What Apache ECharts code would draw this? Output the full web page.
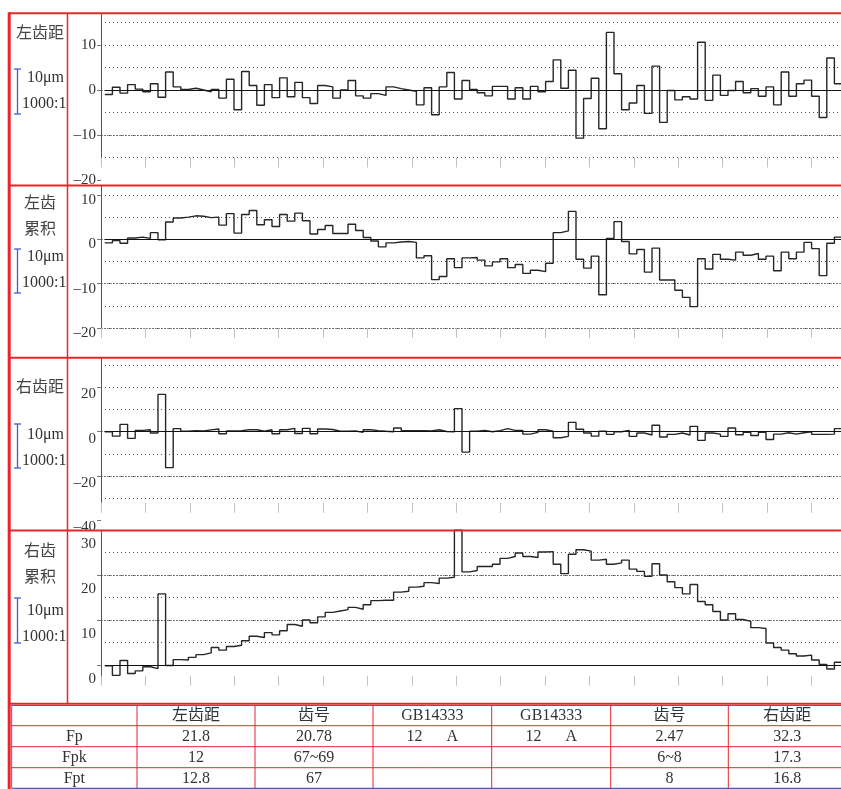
<!DOCTYPE html>
<html>
<head>
<meta charset="utf-8">
<title>齿距偏差</title>
<script src="https://cdn.jsdelivr.net/npm/echarts@6/dist/echarts.min.js"></script>
<style>
html, body { margin: 0; padding: 0; background: #fff; }
#main { width: 841px; height: 789px; }
</style>
</head>
<body>
<div id="main"></div>
<script>
// readings per tooth, tooth 1 .. 97 (the printout is cut off on the right)
var leftPitch = [
  -1.0, 0.6, -0.7, 1.2, 0.2, -0.4, 1.4, -1.6, 4.0, 0.7,
  0.1, 0.4, 0, -0.4, 0.1, -1.8, 2.4, -4.4, 4.1, 1.0,
  -3.4, 1.2, -1.7, 2.7, -1.5, 1.7, -1.7, -3.0, 1.0, 0.7,
  -1.8, 0, 2.1, -1.3, -1.8, -0.8, -1.2, 0.7, 0.3, 0,
  -0.3, -3.3, 0.5, -5.5, 0.7, 3.9, -2.0, 2.1, 0.1, -0.6,
  -1.3, 0.8, 0.8, -2.0, 0.5, -2.0, 0.8, -0.4, 1.9, 6.7,
  0.4, 4.4, -10.7, -1.9, 2.6, -8.6, 12.8, 3.6, -4.4, -2.9,
  1.0, -5.2, 5.3, -7.2, -0.1, -2.2, -1.5, -2.0, 10.6, -2.3,
  3.3, -1.2, -0.1, 1.9, -0.6, 0.3, -1.4, 0.7, -3.3, 4.0,
  -1.4, 1.4, 2.2, -1.4, -6.1, 7.1, 1.4
];
var leftCumulative = [
  -0.8, -0.3, -0.9, 0.3, 0.5, 0.2, 1.5, -0.1, 3.9, 4.8,
  5.0, 5.3, 5.2, 4.9, 5.0, 3.2, 5.8, 1.4, 5.6, 6.5,
  3.3, 4.4, 2.9, 5.6, 4.1, 5.9, 4.2, 1.2, 2.2, 3.1,
  1.3, 1.3, 3.4, 2.0, 0.4, -0.4, -1.7, -0.8, -0.6, -0.5,
  -0.7, -4.2, -3.7, -9.1, -8.4, -4.4, -6.4, -4.2, -4.1, -4.7,
  -6.0, -5.1, -4.4, -6.4, -5.7, -7.7, -7.0, -7.3, -5.4, 1.5,
  1.9, 6.3, -4.5, -6.5, -3.8, -12.5, 0.2, 4.0, -0.5, -3.3,
  -2.3, -7.4, -2.0, -9.2, -9.2, -11.5, -13.1, -15.2, -4.4, -6.7,
  -3.4, -4.5, -4.7, -2.9, -3.6, -3.2, -4.5, -3.8, -7.1, -2.9,
  -4.4, -2.9, -0.7, -2.1, -8.2, -0.9, 0.5
];
var rightPitch = [
  -0.1, -2.0, 3.3, -3.0, 0.6, 0.9, -0.6, 16.8, -16.2, 1.4,
  0.2, 0.5, 0.3, 0.8, 1.2, -0.9, 0.3, 0.5, 0.9, 0.9,
  0.2, 0.9, -0.9, 0.9, 1.5, -0.8, 1.5, -0.9, 1.2, 1.0,
  0.2, 0.2, 0.3, -0.3, 0.9, 0.5, 0.2, 0, 1.7, 0.5,
  0.5, 0.5, 0.3, 0.9, 0.1, 0, 10.4, -9.2, 0.2, 0.6,
  0, 0.5, 1.4, 0.6, 0.6, -1.1, -0.3, 0.9, 0.2, -2.7,
  -2.1, 4.2, 1.1, -0.6, -2.0, 0.2, -1.2, 0, 0.6, -2.1,
  -0.6, -1.5, 2.9, -2.4, -1.2, -0.6, -1.5, 2.4, -3.9, -0.6,
  -1.1, -2.1, 1.7, -1.4, -0.3, -1.7, -0.3, -3.5, -1.1, -0.5,
  -1.1, -0.5, 0, -1.2, -1.2, -1.1, 1.4
];
var rightCumulative = [
  -0.2, -2.3, 1.0, -1.9, -1.3, -0.4, -0.8, 15.8, -0.1, 1.2,
  1.1, 1.7, 2.3, 2.7, 3.9, 3.3, 4.1, 4.4, 5.4, 6.4,
  6.1, 7.2, 6.7, 7.6, 9.0, 8.6, 10.0, 9.4, 10.7, 11.7,
  12.0, 12.3, 12.8, 12.4, 13.4, 14.3, 14.4, 14.4, 16.2, 16.4,
  17.3, 17.5, 18.3, 18.1, 19.3, 19.5, 30.0, 20.7, 21.0, 21.9,
  21.9, 22.4, 23.7, 24.1, 24.9, 24.1, 23.9, 25.1, 25.2, 22.4,
  20.3, 24.6, 25.6, 25.3, 23.3, 23.5, 22.4, 22.7, 23.3, 21.3,
  20.8, 19.7, 22.5, 20.0, 18.5, 17.2, 15.8, 17.9, 14.1, 13.4,
  11.9, 10.0, 11.4, 10.1, 9.7, 8.3, 8.1, 4.9, 3.9, 3.3,
  2.5, 2.0, 2.2, 1.1, 0.1, -0.9, 0.6
];

var panelTitles = ['左齿距', '左齿\n累积', '右齿距', '右齿\n累积'];
var scaleTexts = ['10μm', '1000:1'];
var yTicks1 = [-20, -10, 0, 10];
var yTicks2 = [-20, -10, 0, 10];
var yTicks3 = [-40, -20, 0, 20];
var yTicks4 = [0, 10, 20, 30];

var tableHeader = ['', '左齿距', '齿号', 'GB14333', 'GB14333', '齿号', '右齿距'];
var tableRows = [
  ['Fp', '21.8', '20.78', '12\u2003\u2002A', '12\u2003\u2002A', '2.47', '32.3'],
  ['Fpk', '12', '67~69', '', '', '6~8', '17.3'],
  ['Fpt', '12.8', '67', '', '', '8', '16.8']
];

// ---- layout ----
var RED = '#e8262a', BLUE = '#4a5bc0', INK = '#333';
var FONT = '"Liberation Serif", "Noto Sans CJK SC", serif';
var plotLeft = 101, plotRight = 841;
var toothPx = 7.6, tickPx = 44.4;
var xMax = (plotRight - plotLeft) / toothPx;
var xTick = tickPx / toothPx;
var xTickValues = [];
for (var t = 0; t < xMax - 0.05; t += xTick) xTickValues.push(t);

var panels = [
  { data: leftPitch, ticks: yTicks1, top: 13.3, zeroY: 90, ppu: 4.5, min: -20, major: 10, axisEnd: -15, shift: 0,
    titleY: 34, barTop: 69, barBottom: 114, umY: 78, ratioY: 104 },
  { data: leftCumulative, ticks: yTicks2, top: 185.5, zeroY: 239.3, ppu: 4.43, min: -20, major: 10, axisEnd: -20, shift: 5,
    titleY: 217, barTop: 249, barBottom: 293, umY: 257, ratioY: 283 },
  { data: rightPitch, ticks: yTicks3, top: 357.7, zeroY: 431.7, ppu: 2.22, min: -40, major: 20, axisEnd: -32, shift: 7,
    titleY: 388, barTop: 424, barBottom: 468, umY: 435, ratioY: 461 },
  { data: rightCumulative, ticks: yTicks4, top: 530, zeroY: 665, ppu: 4.5, min: -10, major: 10, axisEnd: -2.4, shift: 14,
    titleY: 564.5, barTop: 598, barBottom: 643, umY: 611, ratioY: 637 }
];

function stepPoints(values) {
  var pts = values.map(function (v, k) { return [k + 0.5, v]; });
  pts.push([values.length + 0.5, values[values.length - 1]]);
  return pts;
}

// split line colours: hide lines below the end of the drawn axis
function lineColors(p, step, max, color) {
  var out = [];
  for (var v = p.min; v < max - 1e-6; v += step) {
    out.push(v >= p.axisEnd - 1e-6 ? color : 'rgba(0,0,0,0)');
  }
  return out;
}

function fmt(list) {
  return function (v) {
    var r = Math.round(v * 1000) / 1000;
    if (list.indexOf(r) < 0) return '';
    return r < 0 ? '\u2013' + (-r) : String(r);
  };
}

var grids = [], xAxes = [], yAxes = [], series = [];
panels.forEach(function (p, i) {
  var max = Math.round((p.zeroY - p.top) / p.ppu * 1e6) / 1e6;
  grids.push({
    left: plotLeft, width: plotRight - plotLeft, top: p.top,
    height: (max - p.min) * p.ppu, outerBoundsMode: 'none'
  });
  xAxes.push({
    type: 'value', gridIndex: i, min: 0, max: xMax, interval: xTick,
    offset: -(p.axisEnd - p.min) * p.ppu,
    axisLine: { show: false, onZero: false },
    axisTick: { show: true, length: 10, customValues: xTickValues, lineStyle: { color: '#c2c2c2', width: 1 } },
    axisLabel: { show: false },
    splitLine: { show: false }
  });
  var label = {
    customValues: p.ticks, formatter: fmt(p.ticks), margin: 5,
    fontFamily: FONT, fontSize: 15, color: INK
  };
  if (p.shift) {
    // printout places these labels a little below their grid lines
    label.verticalAlign = 'top';
    label.lineHeight = p.shift * 2;
  }
  yAxes.push({
    type: 'value', gridIndex: i, position: 'left', min: p.min, max: max, interval: p.major,
    axisLine: { show: false, onZero: false },
    axisTick: { show: true, length: 4, customValues: p.ticks, lineStyle: { color: '#777' } },
    axisLabel: label,
    splitLine: {
      show: true, showMinLine: true, showMaxLine: false,
      lineStyle: { color: lineColors(p, p.major, max, '#8a8a8a'), type: [2, 1], width: 1 }
    }
  });
  yAxes.push({
    type: 'value', gridIndex: i, position: 'right', min: p.min, max: max, interval: p.major / 2,
    axisLine: { show: false, onZero: false },
    axisTick: { show: false }, axisLabel: { show: false },
    splitLine: {
      show: true, showMinLine: true, showMaxLine: false,
      lineStyle: { color: lineColors(p, p.major / 2, max, '#555'), type: [1, 3], width: 1 }
    }
  });
  series.push({
    type: 'line', xAxisIndex: i, yAxisIndex: 2 * i,
    data: stepPoints(p.data), step: 'end', showSymbol: false, symbol: 'none',
    lineStyle: { color: '#262626', width: 1.4 },
    z: 3,
    markLine: {
      silent: true, symbol: ['none', 'none'], animation: false,
      label: { show: false },
      data: [
        [{ coord: [0.5, 0], lineStyle: { color: '#111', width: 1.2, type: 'solid' } }, { coord: [xMax, 0] }],
        [{ coord: [0, p.axisEnd], lineStyle: { color: '#555', width: 1, type: 'solid' } }, { coord: [0, max] }]
      ]
    }
  });
});

// ---- graphic: frame, side labels, table ----
function line(x1, y1, x2, y2, color, w, z) {
  return { type: 'line', silent: true, z: z || 70,
    shape: { x1: x1, y1: y1, x2: x2, y2: y2 },
    style: { stroke: color, lineWidth: w } };
}
function text(x, y, s, align, z, extra) {
  var st = { text: s, fill: INK, font: '16px ' + FONT,
    align: align, verticalAlign: 'middle', textAlign: align, textVerticalAlign: 'middle' };
  if (extra) for (var k in extra) st[k] = extra[k];
  return { type: 'text', silent: true, z: z || 70, x: x, y: y, style: st };
}

var gfx = [];
var sepYs = [13.3, 185.5, 357.7, 530.5, 703.8];
panels.forEach(function (p, i) {
  gfx.push(text(40, p.titleY, panelTitles[i], 'center', 70, { lineHeight: 26, fill: '#444' }));
  gfx.push(line(17.5, p.barTop, 17.5, p.barBottom, BLUE, 1.3));
  gfx.push(line(14, p.barTop, 21, p.barTop, BLUE, 1.3));
  gfx.push(line(14, p.barBottom, 21, p.barBottom, BLUE, 1.3));
  gfx.push(text(27, p.umY, scaleTexts[0], 'left'));
  gfx.push(text(22, p.ratioY, scaleTexts[1], 'left'));
});

// table
var colXs = [11.7, 137, 255, 373, 491.7, 610.7, 728.3, 846];
var rowYs = [705, 725.7, 746.7, 767.7, 788.3];
gfx.push({ type: 'rect', silent: true, z: 50, shape: { x: 9, y: 704, width: 832, height: 85 }, style: { fill: '#fff' } });
for (var r = 1; r < rowYs.length - 1; r++) gfx.push(line(colXs[0], rowYs[r], 841, rowYs[r], RED, 1, 60));
for (var c = 1; c < colXs.length - 1; c++) gfx.push(line(colXs[c], rowYs[0], colXs[c], rowYs[rowYs.length - 1], RED, 1, 60));
gfx.push(line(colXs[0], rowYs[0] + 0.5, 841, rowYs[0] + 0.5, '#5a5aa8', 1, 61));
gfx.push(line(colXs[0], rowYs[4], 841, rowYs[4], '#5a5aa8', 1.2, 61));
gfx.push(line(colXs[0], rowYs[0], colXs[0], rowYs[4], '#5a5aa8', 1, 61));
[tableHeader].concat(tableRows).forEach(function (row, ri) {
  var cy = (rowYs[ri] + rowYs[ri + 1]) / 2 + 0.5;
  row.forEach(function (cell, ci) {
    if (!cell) return;
    var cx = (colXs[ci] + Math.min(colXs[ci + 1], 846)) / 2;
    gfx.push(text(cx, cy, cell, 'center', 62));
  });
});

// red frame
sepYs.forEach(function (y) { gfx.push(line(9, y, 841, y, RED, 2)); });
gfx.push(line(9.2, 12.3, 9.2, 789, RED, 3));
gfx.push(line(67.5, 13, 67.5, 704, RED, 1.5));

var chart = echarts.init(document.getElementById('main'), null, { renderer: 'canvas' });
chart.setOption({
  backgroundColor: '#fff',
  animation: false,
  grid: grids,
  xAxis: xAxes,
  yAxis: yAxes,
  series: series,
  graphic: { elements: gfx }
});
</script>
</body>
</html>
